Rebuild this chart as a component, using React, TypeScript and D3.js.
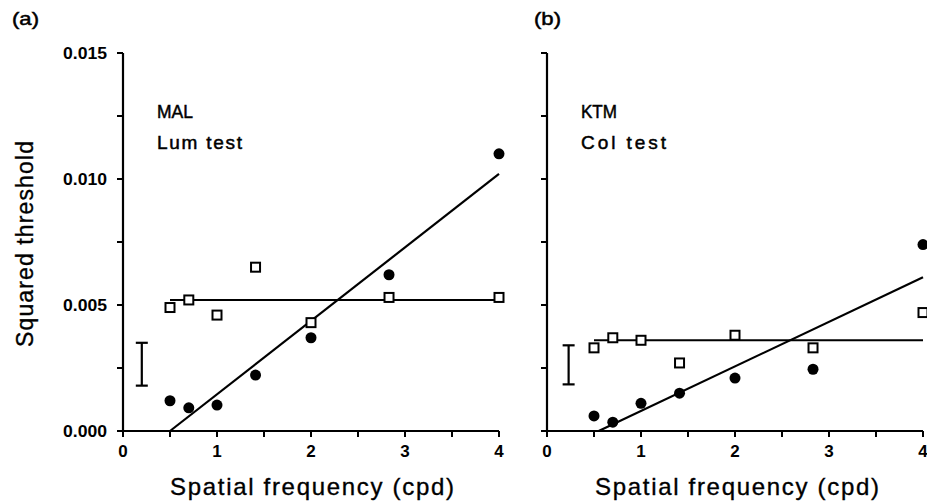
import React from "react";
import * as d3 from "d3";

// Spatial frequencies tested (cycles per degree)
const freqs = [0.5, 0.7, 1.0, 1.41, 2.0, 2.83, 4.0];

// Panel (a): observer MAL, luminance test
const aFilled = [0.0012, 0.00092, 0.00103, 0.00222, 0.0037, 0.0062, 0.011];
const aOpen = [0.0049, 0.0052, 0.0046, 0.0065, 0.0043, 0.0053, 0.0053];
const aFlat = 0.0052;
const aFit: [number, number][] = [[0.5, 0], [4.0, 0.0102]];
const aErr = { x: 0.2, lo: 0.0018, hi: 0.0035 };

// Panel (b): observer KTM, colour test
const bFilled = [0.0006, 0.00035, 0.0011, 0.0015, 0.0021, 0.00245, 0.0074];
const bOpen = [0.0033, 0.0037, 0.0036, 0.0027, 0.0038, 0.0033, 0.0047];
const bFlat = 0.0036;
const bFit: [number, number][] = [[0.55, 0], [4.0, 0.0061]];
const bErr = { x: 0.23, lo: 0.00185, hi: 0.0034 };

const xMajor = [0, 1, 2, 3, 4];
const xMinor = [0.5, 1.5, 2.5, 3.5];
const yTicks = [0, 0.0025, 0.005, 0.0075, 0.01, 0.0125, 0.015];
const yLabels = [0, 0.005, 0.01, 0.015];

const FONT = "'Liberation Sans', Arial, sans-serif";

type PanelProps = {
  x0: number;
  tag: string;
  tagX: number;
  name: string;
  test: string;
  filled: number[];
  open: number[];
  flat: number;
  fit: [number, number][];
  err: { x: number; lo: number; hi: number };
  showYLabels: boolean;
  titleX: number;
};

const y = d3.scaleLinear().domain([0, 0.015]).range([431, 53]);

// Regular-weight text thickened slightly with an outline stroke
const heavy = { stroke: "#000", strokeWidth: 0.5 };
const medium = { stroke: "#000", strokeWidth: 0.35 };

function Panel(p: PanelProps) {
  const x = d3.scaleLinear().domain([0, 4]).range([p.x0, p.x0 + 376]);
  const line = d3
    .line<[number, number]>()
    .x((d) => x(d[0]))
    .y((d) => y(d[1]));
  const flatPts: [number, number][] = [
    [freqs[0], p.flat],
    [freqs[freqs.length - 1], p.flat],
  ];
  const tl = 6;
  return (
    <g>
      <text x={p.tagX} y={25} fontFamily={FONT} fontSize={19} textLength={27} lengthAdjust="spacingAndGlyphs" {...heavy}>
        {p.tag}
      </text>
      {/* axes */}
      <line x1={x(0)} x2={x(0)} y1={y(0.015)} y2={y(0)} stroke="#000" strokeWidth={2.2} />
      <line x1={x(0) - tl} x2={x(4)} y1={y(0)} y2={y(0)} stroke="#000" strokeWidth={2.2} />
      {yTicks.map((t) => (
        <line key={"yt" + t} x1={x(0) - tl} x2={x(0)} y1={y(t)} y2={y(t)} stroke="#000" strokeWidth={2} />
      ))}
      {xMajor.concat(xMinor).map((t) => (
        <line key={"xt" + t} x1={x(t)} x2={x(t)} y1={y(0)} y2={y(0) + tl} stroke="#000" strokeWidth={2} />
      ))}
      {p.showYLabels &&
        yLabels.map((t) => (
          <text
            key={"yl" + t}
            x={x(0) - 16}
            y={y(t) + 6}
            textAnchor="end"
            fontFamily={FONT}
            fontSize={16}
            fontWeight="bold"
            textLength={44}
            lengthAdjust="spacingAndGlyphs"
          >
            {t.toFixed(3)}
          </text>
        ))}
      {xMajor.map((t) => (
        <text
          key={"xl" + t}
          x={x(t)}
          y={457}
          textAnchor="middle"
          fontFamily={FONT}
          fontSize={17}
          fontWeight="bold"
        >
          {t}
        </text>
      ))}
      <text
        x={p.titleX}
        y={495}
        fontFamily={FONT}
        fontSize={24}
        textLength={284}
        lengthAdjust="spacing"
        {...medium}
      >
        Spatial frequency (cpd)
      </text>
      {/* observer and condition */}
      <text x={x(0) + 34} y={118} fontFamily={FONT} fontSize={19} textLength={36} lengthAdjust="spacingAndGlyphs" {...heavy}>
        {p.name}
      </text>
      <text x={x(0) + 34} y={149} fontFamily={FONT} fontSize={19} textLength={85} lengthAdjust="spacing" {...heavy}>
        {p.test}
      </text>
      {/* error bar */}
      <g stroke="#000" strokeWidth={2.2}>
        <line x1={x(p.err.x)} x2={x(p.err.x)} y1={y(p.err.lo)} y2={y(p.err.hi)} />
        <line x1={x(p.err.x) - 6} x2={x(p.err.x) + 6} y1={y(p.err.lo)} y2={y(p.err.lo)} />
        <line x1={x(p.err.x) - 6} x2={x(p.err.x) + 6} y1={y(p.err.hi)} y2={y(p.err.hi)} />
      </g>
      {/* fitted lines */}
      <path d={line(flatPts) || ""} fill="none" stroke="#000" strokeWidth={2} />
      <path d={line(p.fit) || ""} fill="none" stroke="#000" strokeWidth={2.2} />
      {/* data */}
      {p.open.map((v, i) => (
        <rect
          key={"o" + i}
          x={x(freqs[i]) - 4.5}
          y={y(v) - 4.5}
          width={9}
          height={9}
          fill="#fff"
          stroke="#000"
          strokeWidth={2}
        />
      ))}
      {p.filled.map((v, i) => (
        <circle key={"f" + i} cx={x(freqs[i])} cy={y(v)} r={5.5} fill="#000" />
      ))}
    </g>
  );
}

export default function App() {
  return (
    <svg
      width={927}
      height={504}
      style={{ position: "absolute", left: 0, top: 0, background: "#fff" }}
    >
      <rect width={927} height={504} fill="#fff" />
      <text
        transform="translate(33,244) rotate(-90)"
        textAnchor="middle"
        fontFamily={FONT}
        fontSize={23}
        textLength={206}
        lengthAdjust="spacing"
        {...medium}
      >
        Squared threshold
      </text>
      <Panel
        x0={123}
        tag="(a)"
        tagX={12}
        name="MAL"
        test="Lum test"
        filled={aFilled}
        open={aOpen}
        flat={aFlat}
        fit={aFit}
        err={aErr}
        showYLabels={true}
        titleX={170}
      />
      <Panel
        x0={547}
        tag="(b)"
        tagX={534}
        name="KTM"
        test="Col test"
        filled={bFilled}
        open={bOpen}
        flat={bFlat}
        fit={bFit}
        err={bErr}
        showYLabels={false}
        titleX={595}
      />
    </svg>
  );
}
